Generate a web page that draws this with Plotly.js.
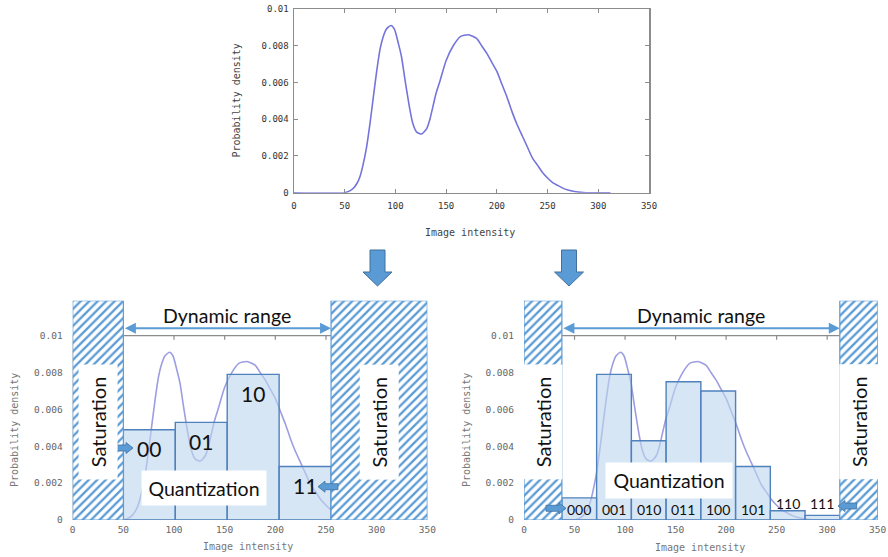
<!DOCTYPE html>
<html>
<head>
<meta charset="utf-8">
<script src="https://cdn.plot.ly/plotly-3.0.1.min.js"></script>
<style>
  html, body { margin: 0; padding: 0; background: #ffffff; }
  #chart { width: 888px; height: 557px; }
</style>
</head>
<body>
<div id="chart"></div>
<script>
// Bimodal probability density of image intensity
const intensity = [0, 50, 55, 58.5, 62, 65, 68, 71.6, 75, 78.2, 81.5, 84.8, 88, 91, 95.5, 99, 103, 106, 109, 111,
  114, 117, 121, 126, 131, 134, 137, 140, 144, 150, 157, 164, 172, 180, 185, 190, 195, 200, 205, 210,
  215, 220, 225, 230, 235, 240, 245, 250, 255, 260, 265, 270, 278, 288, 312];
const density = [0, 0, 0.0001, 0.00024, 0.0005, 0.00087, 0.0015, 0.0025, 0.0038, 0.0052, 0.0066, 0.0078, 0.0085, 0.0089, 0.0091, 0.0089, 0.0081, 0.0074, 0.0063, 0.0056,
  0.0046, 0.0038, 0.0033, 0.0032, 0.0035, 0.0040, 0.0047, 0.0054, 0.0061, 0.0072, 0.0080, 0.0085, 0.0086, 0.0084, 0.0080, 0.0076, 0.0071, 0.0066, 0.0059, 0.0052,
  0.0044, 0.0037, 0.0031, 0.0025, 0.0019, 0.0015, 0.0011, 0.0008, 0.00055, 0.0004, 0.00025, 0.00015, 0.00005, 0, 0];

// 2-bit quantizer: dynamic range 50..255
const rangeA = [50, 255];
const codesA = ['00', '01', '10', '11'];
const edgesA = [50, 101.25, 152.5, 203.75, 255];
const densA = [0.0049, 0.0053, 0.0079, 0.0029];

// 3-bit quantizer: dynamic range 37.5..312.5
const rangeB = [37.5, 312.5];
const codesB = ['000', '001', '010', '011', '100', '101', '110', '111'];
const edgesB = [37.5, 71.875, 106.25, 140.625, 175, 209.375, 243.75, 278.125, 312.5];
const densB = [0.0012, 0.0079, 0.0043, 0.0075, 0.0070, 0.0029, 0.0005, 0.00025];

// Axis ticks
const xTicks = [0, 50, 100, 150, 200, 250, 300, 350];
const yTicks = [0, 0.002, 0.004, 0.006, 0.008, 0.01];
const yTickText = ['0', '0.002', '0.004', '0.006', '0.008', '0.01'];

// ---- page geometry helpers (pixels -> paper fractions) ----
const W = 888, H = 557;
const px = v => v / W;
const py = v => 1 - v / H;
const X_MAX = 350, Y_TOP = 0.0119, Y_FRAME = 0.01;

const BLUE = '#5b9bd5', BLUE_EDGE = '#41719c';
const BIG = 'Lato, "Open Sans", sans-serif';
const MONO = '"DejaVu Sans Mono", "Liberation Mono", monospace';

const centers = e => e.slice(0, -1).map((v, i) => (v + e[i + 1]) / 2);
const widths = e => e.slice(0, -1).map((v, i) => e[i + 1] - v);

function curveTrace(xa, ya, color) {
  return { type: 'scatter', mode: 'lines', x: intensity, y: density, xaxis: xa, yaxis: ya,
    line: { color: color, width: 1.6, shape: 'spline', smoothing: 0.6 }, hoverinfo: 'skip' };
}
function binTrace(xa, ya, edges, dens) {
  return { type: 'bar', x: centers(edges), y: dens, width: widths(edges), base: 0, xaxis: xa, yaxis: ya,
    marker: { color: 'rgba(189,215,238,0.62)', line: { color: '#4f81bd', width: 1.4 } }, hoverinfo: 'skip' };
}
function saturationTrace(xa, ya, range) {
  return { type: 'bar', x: [range[0] / 2, (range[1] + X_MAX) / 2], y: [Y_TOP, Y_TOP],
    width: [range[0], X_MAX - range[1]], base: 0, xaxis: xa, yaxis: ya,
    marker: { color: '#ffffff', line: { color: BLUE, width: 1.2 },
      pattern: { shape: '/', fgcolor: BLUE, bgcolor: '#ffffff', size: 6, solidity: 0.38, fillmode: 'replace' } },
    hoverinfo: 'skip' };
}

const data = [
  curveTrace('x', 'y', '#7474dc'),
  curveTrace('x2', 'y2', '#9d9de2'),
  curveTrace('x3', 'y3', '#9d9de2'),
  binTrace('x4', 'y4', edgesA, densA),
  saturationTrace('x4', 'y4', rangeA),
  binTrace('x5', 'y5', edgesB, densB),
  saturationTrace('x5', 'y5', rangeB)
];

const topTick = { family: MONO, size: 9, color: '#333333' };
const botTick = { family: MONO, size: 9.5, color: '#666666' };

function lowerAxes(xd) {
  return [
    { domain: xd, range: [0, X_MAX], tickvals: xTicks, ticks: '', showline: false, showgrid: false,
      zeroline: false, tickfont: botTick, ticklabelstandoff: 2, fixedrange: true },
    { domain: [py(520), py(300.7)], range: [0, Y_TOP], tickvals: yTicks, ticktext: yTickText, ticks: '',
      showline: false, showgrid: false, zeroline: false, tickfont: botTick, ticklabelstandoff: 9, fixedrange: true }
  ];
}
const [xa2, ya2] = lowerAxes([px(72.7), px(427.3)]);
const [xa3, ya3] = lowerAxes([px(524), px(877.7)]);

const shapes = [];
const annotations = [];

// frame of the lower plots, with inward ticks along its top edge
['2', '3'].forEach(n => {
  shapes.push({ type: 'rect', xref: 'x' + n, yref: 'y' + n, x0: 0, x1: X_MAX, y0: 0, y1: Y_FRAME,
    line: { color: '#8c8c8c', width: 1.2 }, layer: 'below' });
  xTicks.slice(1, -1).forEach(t => shapes.push({ type: 'line', xref: 'x' + n, yref: 'y' + n,
    x0: t, x1: t, ysizemode: 'pixel', yanchor: Y_FRAME, y0: 0, y1: -4,
    line: { color: '#8c8c8c', width: 1.2 }, layer: 'below' }));
});

// big down arrows between the rows
function downArrow(cx) {
  const pts = [[cx - 7.5, 250], [cx + 7.5, 250], [cx + 7.5, 272], [cx + 14.5, 272], [cx, 286],
    [cx - 14.5, 272], [cx - 7.5, 272]];
  return 'M' + pts.map(p => px(p[0]) + ',' + py(p[1])).join(' L') + ' Z';
}
[377.5, 569].forEach(cx => shapes.push({ type: 'path', xref: 'paper', yref: 'paper', path: downArrow(cx),
  fillcolor: BLUE, line: { color: BLUE_EDGE, width: 1 } }));

// small block arrows (from a saturation region into the end bins)
function sideArrow(xFrom, xTo, yc) {
  const d = Math.sign(xTo - xFrom), head = xTo - d * 7;
  const pts = [[xFrom, yc - 3], [head, yc - 3], [head, yc - 5.5], [xTo, yc], [head, yc + 5.5], [head, yc + 3], [xFrom, yc + 3]];
  return 'M' + pts.map(p => px(p[0]) + ',' + py(p[1])).join(' L') + ' Z';
}
[[115, 133, 448], [338, 318, 486.7], [546, 566, 508.3], [856.7, 838, 506]].forEach(a =>
  shapes.push({ type: 'path', xref: 'paper', yref: 'paper', path: sideArrow(a[0], a[1], a[2]),
    fillcolor: BLUE, line: { color: BLUE_EDGE, width: 0.8 } }));

// dynamic range arrows and titles
[['2', rangeA], ['3', rangeB]].forEach(([n, r]) => {
  annotations.push({ xref: 'x' + n, yref: 'y' + n, axref: 'x' + n, ayref: 'y' + n,
    x: r[1], y: 0.0104, ax: r[0], ay: 0.0104, text: '', showarrow: true, arrowside: 'end+start',
    arrowhead: 2, startarrowhead: 2, arrowsize: 1.1, startarrowsize: 1.1, arrowwidth: 2, arrowcolor: BLUE,
    standoff: 0, startstandoff: 0 });
  annotations.push({ xref: 'x' + n, yref: 'y' + n, x: (r[0] + r[1]) / 2, y: 0.01112, text: 'Dynamic range',
    showarrow: false, font: { family: BIG, size: 19.5, color: '#111111' } });
  // saturation labels over the hatched regions
  [r[0] / 2, (r[1] + X_MAX) / 2].forEach(cx => annotations.push({ xref: 'x' + n, yref: 'y' + n,
    x: cx, y: 0.00532, text: 'Saturation', textangle: -90, width: 112, height: 36, bgcolor: '#ffffff',
    showarrow: false, font: { family: BIG, size: 20, color: '#111111' } }));
});

// quantization captions
annotations.push({ xref: 'x2', yref: 'y2', x: 130, y: 0.00171, text: 'Quantization', width: 122, height: 32,
  bgcolor: '#ffffff', showarrow: false, font: { family: BIG, size: 19.5, color: '#111111' } });
annotations.push({ xref: 'x3', yref: 'y3', x: 143, y: 0.00215, text: 'Quantization', width: 124, height: 33,
  bgcolor: '#ffffff', showarrow: false, font: { family: BIG, size: 19.5, color: '#111111' } });

// code words on the bins
centers(edgesA).forEach((cx, i) => annotations.push({ xref: 'x2', yref: 'y2', x: cx, y: densA[i], yshift: -19,
  text: codesA[i], showarrow: false, font: { family: BIG, size: 21, color: '#111111' } }));
centers(edgesB).forEach((cx, i) => annotations.push({ xref: 'x3', yref: 'y3', x: cx,
  y: densB[i] >= 0.001 ? 0.00058 : 0.0009,
  text: codesB[i], showarrow: false, font: { family: BIG, size: 14, color: '#111111' } }));

// axis titles
function axisTitle(x, y, text, angle, color) {
  annotations.push({ xref: 'paper', yref: 'paper', x: px(x), y: py(y), xanchor: 'center', yanchor: 'middle',
    text: text, textangle: angle, showarrow: false, font: { family: MONO, size: 10, color: color } });
}
axisTitle(236.5, 101, 'Probability density', -90, '#444444');
axisTitle(470, 233, 'Image intensity', 0, '#444444');
axisTitle(14, 430, 'Probability density', -90, '#777777');
axisTitle(248, 546.7, 'Image intensity', 0, '#777777');
axisTitle(466, 430, 'Probability density', -90, '#777777');
axisTitle(700, 547.3, 'Image intensity', 0, '#777777');

const layout = {
  width: W, height: H, margin: { l: 0, r: 0, t: 0, b: 0 },
  paper_bgcolor: '#ffffff', plot_bgcolor: 'rgba(0,0,0,0)', showlegend: false, barmode: 'overlay',
  xaxis: { domain: [px(294), px(649)], range: [0, X_MAX], anchor: 'y', tickvals: xTicks, ticks: 'inside',
    ticklen: 4, tickcolor: '#8c8c8c', showline: true, linecolor: '#8c8c8c', linewidth: 1.5, mirror: 'allticks',
    showgrid: false, zeroline: false, tickfont: topTick, ticklabelstandoff: 4, fixedrange: true },
  yaxis: { domain: [py(192.7), py(9)], range: [0, 0.01], anchor: 'x', tickvals: yTicks, ticktext: yTickText,
    ticks: 'inside', ticklen: 4, tickcolor: '#8c8c8c', showline: true, linecolor: '#8c8c8c', linewidth: 1.5,
    mirror: 'allticks', showgrid: false, zeroline: false, tickfont: topTick, ticklabelstandoff: 2, fixedrange: true },
  xaxis2: Object.assign({ anchor: 'y2' }, xa2),
  yaxis2: Object.assign({ anchor: 'x2' }, ya2),
  xaxis3: Object.assign({ anchor: 'y3' }, xa3),
  yaxis3: Object.assign({ anchor: 'x3' }, ya3),
  xaxis4: { overlaying: 'x2', anchor: 'y4', range: [0, X_MAX], visible: false, fixedrange: true },
  yaxis4: { overlaying: 'y2', anchor: 'x4', range: [0, Y_TOP], visible: false, fixedrange: true },
  xaxis5: { overlaying: 'x3', anchor: 'y5', range: [0, X_MAX], visible: false, fixedrange: true },
  yaxis5: { overlaying: 'y3', anchor: 'x5', range: [0, Y_TOP], visible: false, fixedrange: true },
  shapes: shapes,
  annotations: annotations
};

Plotly.newPlot('chart', data, layout, { displayModeBar: false, staticPlot: true });
</script>
</body>
</html>
